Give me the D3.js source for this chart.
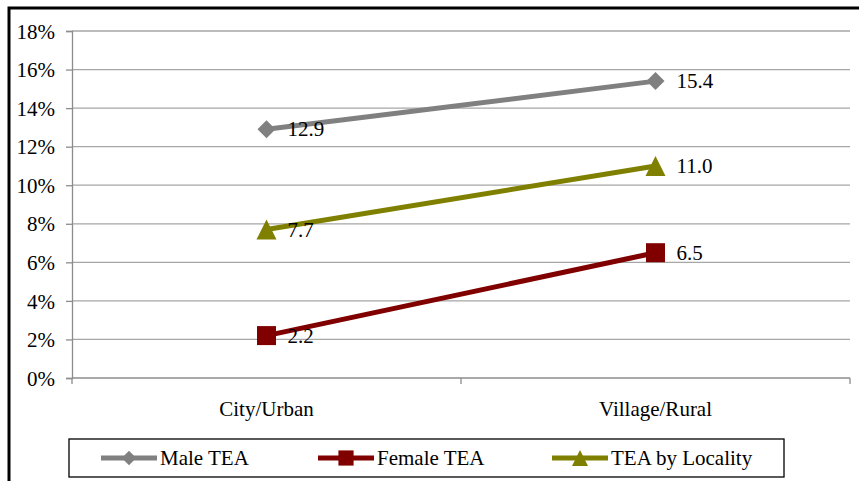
<!DOCTYPE html>
<html lang="en">
  <head>
    <meta charset="UTF-8" />
    <title>TEA by locality</title>
    <script src="https://d3js.org/d3.v7.min.js"></script>
    <style>
      body { margin: 0; background: #fff; }
      svg text { font-family: 'Liberation Serif', 'Times New Roman', serif; fill: #000; }
    </style>
  </head>
  <body>
    <svg id="chart"></svg>
    <script>
      let width = 859
      let height = 481

      let categories = ['City/Urban', 'Village/Rural']
      let seriesNames = ['Male TEA', 'Female TEA', 'TEA by Locality']
      let maleTEA = [12.9, 15.4]
      let femaleTEA = [2.2, 6.5]
      let localityTEA = [7.7, 11.0]
      let yTicks = [0, 2, 4, 6, 8, 10, 12, 14, 16, 18]

      let colors = ['#808080', '#800000', '#808000']
      let markerKinds = ['diamond', 'square', 'triangle']

      // marker shape built on d3.symbol, sized by overall width in px
      function marker(kind, w) {
        if (kind === 'diamond') {
          let side = w / Math.SQRT2
          return { d: d3.symbol().type(d3.symbolSquare).size(side * side)(), t: 'rotate(45)' }
        }
        if (kind === 'square') {
          return { d: d3.symbol().type(d3.symbolSquare).size(w * w)(), t: '' }
        }
        let area = Math.sqrt(3) / 4 * w * w
        let h = w * Math.sqrt(3) / 2
        let sy = w / h
        return { d: d3.symbol().type(d3.symbolTriangle).size(area)(), t: `translate(0,${(h * sy) / 6}) scale(1,${sy})` }
      }
      let markerWidths = [18, 19, 20]

      let series = [maleTEA, femaleTEA, localityTEA].map((vals, i) => ({
        name: seriesNames[i],
        color: colors[i],
        kind: markerKinds[i],
        width: markerWidths[i],
        values: vals.map((v, j) => ({ cat: categories[j], value: v })),
      }))

      let svg = d3.select('#chart').attr('width', width).attr('height', height)

      // outer frame (only top and left visible)
      svg.append('path')
        .attr('d', 'M9,' + height + ' V8 H' + width)
        .attr('fill', 'none')
        .attr('stroke', '#000')
        .attr('stroke-width', 3)

      let plot = { left: 72, right: 850, top: 31, bottom: 378 }

      let x = d3.scaleBand().domain(categories).range([plot.left, plot.right])
      let y = d3.scaleLinear().domain([0, 18]).range([plot.bottom, plot.top])

      // gridlines
      svg.append('g')
        .selectAll('line')
        .data(yTicks.filter(d => d > 0))
        .enter()
        .append('line')
        .attr('x1', plot.left)
        .attr('x2', plot.right)
        .attr('y1', d => y(d))
        .attr('y2', d => y(d))
        .attr('stroke', '#a6a6a6')
        .attr('stroke-width', 1.3)

      // y axis
      let yAxis = svg.append('g')
        .attr('transform', `translate(${plot.left},0)`)
        .call(d3.axisLeft(y).tickValues(yTicks).tickFormat(d => d + '%').tickSize(6).tickPadding(11))
      yAxis.attr('font-family', null).attr('font-size', null)
      yAxis.select('.domain').attr('stroke', '#8c8c8c').attr('stroke-width', 1.3)
      yAxis.selectAll('.tick line').attr('stroke', '#8c8c8c').attr('stroke-width', 1.3)
      yAxis.selectAll('.tick text').style('font-size', '21px').attr('dy', '0.34em')

      // x axis
      let xAxis = svg.append('g')
        .attr('transform', `translate(0,${plot.bottom})`)
        .call(d3.axisBottom(x).tickSize(0).tickPadding(23))
      xAxis.attr('font-family', null).attr('font-size', null)
      xAxis.select('.domain').remove()
      xAxis.append('line')
        .attr('x1', plot.left).attr('x2', plot.right)
        .attr('stroke', '#8c8c8c').attr('stroke-width', 1.3)
      xAxis.selectAll('.boundary')
        .data([plot.left, (plot.left + plot.right) / 2, plot.right])
        .enter()
        .append('line')
        .attr('x1', d => d).attr('x2', d => d)
        .attr('y1', 0).attr('y2', 6)
        .attr('stroke', '#8c8c8c').attr('stroke-width', 1.3)
      xAxis.selectAll('.tick text').style('font-size', '21px')

      let line = d3.line()
        .x(d => x(d.cat) + x.bandwidth() / 2)
        .y(d => y(d.value))

      let groups = svg.append('g')
        .selectAll('g.series')
        .data(series)
        .enter()
        .append('g')
        .attr('class', 'series')

      groups.append('path')
        .attr('d', d => line(d.values))
        .attr('fill', 'none')
        .attr('stroke', d => d.color)
        .attr('stroke-width', 5)

      groups.each(function (s) {
        let g = d3.select(this)
        let m = marker(s.kind, s.width)
        g.selectAll('path.marker')
          .data(s.values)
          .enter()
          .append('path')
          .attr('class', 'marker')
          .attr('d', m.d)
          .attr('transform', d => `translate(${x(d.cat) + x.bandwidth() / 2},${y(d.value)}) ${m.t}`)
          .attr('fill', s.color)

        g.selectAll('text.label')
          .data(s.values)
          .enter()
          .append('text')
          .attr('class', 'label')
          .attr('x', d => x(d.cat) + x.bandwidth() / 2 + 21)
          .attr('y', d => y(d.value) + 7)
          .style('font-size', '21px')
          .text(d => d.value.toFixed(1))
      })

      // legend
      let legend = svg.append('g')
      legend.append('rect')
        .attr('x', 69).attr('y', 439)
        .attr('width', 715).attr('height', 38)
        .attr('fill', '#fff')
        .attr('stroke', '#000')
        .attr('stroke-width', 1.3)

      let legendX = [101, 318, 552]
      let items = legend.selectAll('g.item')
        .data(series)
        .enter()
        .append('g')
        .attr('class', 'item')
        .attr('transform', (d, i) => `translate(${legendX[i]},458)`)

      items.append('line')
        .attr('x1', 0).attr('x2', 56)
        .attr('stroke', d => d.color)
        .attr('stroke-width', 5)
      items.append('path')
        .attr('d', d => marker(d.kind, d.width * 0.8).d)
        .attr('transform', d => 'translate(28,0) ' + marker(d.kind, d.width * 0.8).t)
        .attr('fill', d => d.color)
      items.append('text')
        .attr('x', 59)
        .attr('y', 7)
        .style('font-size', '21px')
        .text(d => d.name)
    </script>
  </body>
</html>
